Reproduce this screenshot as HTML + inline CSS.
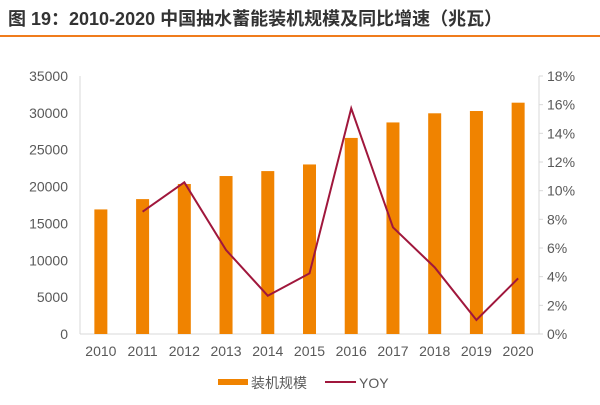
<!DOCTYPE html>
<html><head><meta charset="utf-8"><style>
body{margin:0;background:#fff;}
svg text{font-family:"Liberation Sans","Noto Sans CJK SC",sans-serif;}
</style></head><body>
<svg width="600" height="400">
<text x="8" y="25" font-size="18" font-weight="bold" fill="#333">图 19：2010-2020 中国抽水蓄能装机规模及同比增速（兆瓦）</text>
<rect x="0" y="35" width="600" height="2" fill="#f07c1c"/>
<g id="plot"></g>
</svg>
<script>
const years=["2010","2011","2012","2013","2014","2015","2016","2017","2018","2019","2020"];
const capacity=[16900,18300,20350,21430,22100,23000,26600,28700,29940,30250,31380];
const yoy=[null,8.53,10.58,5.86,2.67,4.23,15.74,7.44,4.65,0.98,3.88];
const leftTicks=[0,5000,10000,15000,20000,25000,30000,35000];
const rightTicks=[0,2,4,6,8,10,12,14,16,18];
const NS="http://www.w3.org/2000/svg";
const g=document.getElementById('plot');
const L=80,R=539,T=76,B=334;
const step=(R-L)/years.length;
const xc=i=>L+step*(i+0.5);
const yl=v=>B-v/35000*(B-T);
const yr=v=>B-v/18*(B-T);
function el(t,a){const e=document.createElementNS(NS,t);for(const k in a)e.setAttribute(k,a[k]);g.appendChild(e);return e;}
let e;
e=el('line',{x1:L,y1:T,x2:L,y2:B,stroke:'#d9d9d9'});


e=el('line',{x1:R,y1:T,x2:R,y2:B,stroke:'#d9d9d9'});


e=el('line',{x1:L,y1:B,x2:R,y2:B,stroke:'#d9d9d9'});


leftTicks.forEach(v=>{e=el('text',{x:L-12,y:yl(v)+5,'font-size':14,fill:'#595959','text-anchor':'end'});e.textContent=v;

});
rightTicks.forEach(v=>{el('line',{x1:R,y1:yr(v),x2:R+4,y2:yr(v),stroke:'#d9d9d9'});
e=el('text',{x:R+8,y:yr(v)+5,'font-size':14,fill:'#595959'});e.textContent=v+'%';

});
years.forEach((y,i)=>{
e=el('rect',{x:xc(i)-6.5,y:yl(capacity[i]),width:13,height:B-yl(capacity[i]),fill:'#f08300'});


e=el('text',{x:xc(i),y:B+22,'font-size':14,fill:'#595959','text-anchor':'middle'});e.textContent=y;


});
let pts=[];yoy.forEach((v,i)=>{if(v!==null)pts.push(xc(i)+','+yr(v));});
e=el('polyline',{points:pts.join(' '),fill:'none',stroke:'#a0173c','stroke-width':2});


e=el('rect',{x:218,y:379,width:30,height:6,fill:'#f08300'});


e=el('text',{x:251,y:388,'font-size':14,fill:'#595959'});e.textContent='装机规模';


e=el('line',{x1:325,y1:382,x2:356,y2:382,stroke:'#a0173c','stroke-width':2});


e=el('text',{x:359,y:388,'font-size':14,fill:'#595959'});e.textContent='YOY';


</script>
</body></html>
